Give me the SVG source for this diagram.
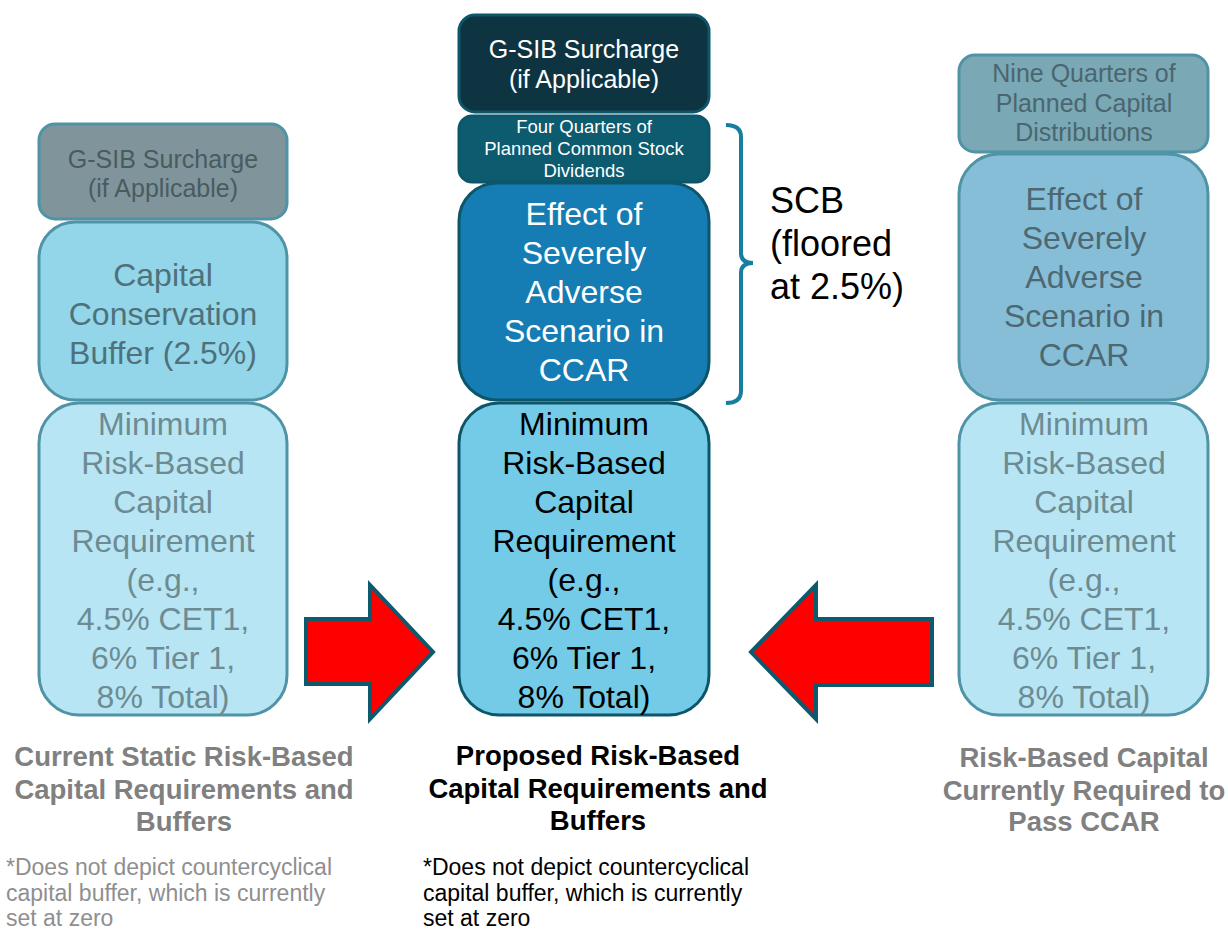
<svg xmlns="http://www.w3.org/2000/svg" width="1228" height="931" viewBox="0 0 1228 931">
<style>
text{font-family:"Liberation Sans",Arial,sans-serif;text-anchor:middle}
.b32{font-size:32px}
.b25{font-size:25px}
.b18{font-size:18.5px}
.bx{stroke-width:3}
.side{stroke:#4f93a6}
.mid{stroke:#0d566a}
.title{font-size:27.5px;font-weight:bold}
.note{font-size:23px;text-anchor:start}
.arrow{fill:#ff0000;stroke:#0d5a6e;stroke-width:4;stroke-linejoin:miter}
</style>
<rect width="1228" height="931" fill="#ffffff"/>

<g id="left-gsib">
<rect class="bx side" x="39" y="124" width="248" height="95" rx="16" fill="#7f959b"/>
<text class="b25" x="163" y="168" fill="#4a5b60">G-SIB Surcharge</text>
<text class="b25" x="163" y="197" fill="#4a5b60">(if Applicable)</text>
</g>
<g id="left-ccb">
<rect class="bx side" x="39" y="222" width="248" height="178" rx="36" fill="#93d6ea"/>
<text class="b32" x="163" y="286" fill="#4f717a">Capital</text>
<text class="b32" x="163" y="325" fill="#4f717a">Conservation</text>
<text class="b32" x="163" y="364" fill="#4f717a">Buffer (2.5%)</text>
</g>
<g id="left-min">
<rect class="bx side" x="39" y="403" width="248" height="312" rx="40" fill="#b8e5f3"/>
<g class="b32" fill="#6d8b92">
<text x="163" y="435">Minimum</text>
<text x="163" y="474">Risk-Based</text>
<text x="163" y="513">Capital</text>
<text x="163" y="552">Requirement</text>
<text x="163" y="591">(e.g.,</text>
<text x="163" y="630">4.5% CET1,</text>
<text x="163" y="669">6% Tier 1,</text>
<text x="163" y="708">8% Total)</text>
</g>
</g>

<g id="center-gsib">
<rect class="bx mid" x="459" y="15" width="250" height="97" rx="16" fill="#0e3441"/>
<text class="b25" x="584" y="58" fill="#ffffff">G-SIB Surcharge</text>
<text class="b25" x="584" y="88" fill="#ffffff">(if Applicable)</text>
</g>
<g id="center-dividends">
<rect class="bx mid" x="459" y="116" width="250" height="66" rx="13" fill="#0d5b6f"/>
<text class="b18" x="584" y="133" fill="#ffffff">Four Quarters of</text>
<text class="b18" x="584" y="155" fill="#ffffff">Planned Common Stock</text>
<text class="b18" x="584" y="177" fill="#ffffff">Dividends</text>
</g>
<g id="center-effect">
<rect class="bx mid" x="459" y="183" width="250" height="217" rx="38" fill="#157db3"/>
<g class="b32" fill="#ffffff">
<text x="584" y="225">Effect of</text>
<text x="584" y="264">Severely</text>
<text x="584" y="303">Adverse</text>
<text x="584" y="342">Scenario in</text>
<text x="584" y="381">CCAR</text>
</g>
</g>
<g id="center-min">
<rect class="bx mid" x="459" y="403" width="250" height="312" rx="40" fill="#73cbe7"/>
<g class="b32" fill="#000000">
<text x="584" y="435">Minimum</text>
<text x="584" y="474">Risk-Based</text>
<text x="584" y="513">Capital</text>
<text x="584" y="552">Requirement</text>
<text x="584" y="591">(e.g.,</text>
<text x="584" y="630">4.5% CET1,</text>
<text x="584" y="669">6% Tier 1,</text>
<text x="584" y="708">8% Total)</text>
</g>
</g>

<g id="right-distributions">
<rect class="bx side" x="959" y="55" width="249" height="97" rx="16" fill="#7aa8b4"/>
<text class="b25" x="1084" y="82" fill="#4a6670">Nine Quarters of</text>
<text class="b25" x="1084" y="112" fill="#4a6670">Planned Capital</text>
<text class="b25" x="1084" y="141" fill="#4a6670">Distributions</text>
</g>
<g id="right-effect">
<rect class="bx side" x="959" y="154" width="249" height="246" rx="40" fill="#86bed8"/>
<g class="b32" fill="#4e6872">
<text x="1084" y="210">Effect of</text>
<text x="1084" y="249">Severely</text>
<text x="1084" y="288">Adverse</text>
<text x="1084" y="327">Scenario in</text>
<text x="1084" y="366">CCAR</text>
</g>
</g>
<g id="right-min">
<rect class="bx side" x="959" y="403" width="249" height="312" rx="40" fill="#b8e5f3"/>
<g class="b32" fill="#6d8b92">
<text x="1084" y="435">Minimum</text>
<text x="1084" y="474">Risk-Based</text>
<text x="1084" y="513">Capital</text>
<text x="1084" y="552">Requirement</text>
<text x="1084" y="591">(e.g.,</text>
<text x="1084" y="630">4.5% CET1,</text>
<text x="1084" y="669">6% Tier 1,</text>
<text x="1084" y="708">8% Total)</text>
</g>
</g>

<g id="scb">
<path d="M726,125 Q741,125 741,137 V253 Q741,263 753,263 Q741,263 741,273 V391 Q741,403 726,403" fill="none" stroke="#167fa0" stroke-width="4"/>
<text x="770" y="213" font-size="36" style="text-anchor:start" fill="#000000">SCB</text>
<text x="770" y="256" font-size="36" style="text-anchor:start" fill="#000000">(floored</text>
<text x="770" y="299" font-size="36" style="text-anchor:start" fill="#000000">at 2.5%)</text>
</g>

<g id="connectors">
<polygon class="arrow" points="306,619 370,619 370,585 433,652 370,719 370,684 306,684"/>
<polygon class="arrow" points="932,619 816,619 816,585 751,652 816,719 816,685 932,685"/>
</g>

<g id="left-caption">
<text class="title" x="184" y="766" fill="#808080">Current Static Risk-Based</text>
<text class="title" x="184" y="799" fill="#808080">Capital Requirements and</text>
<text class="title" x="184" y="831" fill="#808080">Buffers</text>
<text class="note" x="6" y="875" fill="#8f8f8f">*Does not depict countercyclical</text>
<text class="note" x="6" y="901" fill="#8f8f8f">capital buffer, which is currently</text>
<text class="note" x="6" y="926" fill="#8f8f8f">set at zero</text>
</g>
<g id="center-caption">
<text class="title" x="598" y="765" fill="#000000">Proposed Risk-Based</text>
<text class="title" x="598" y="798" fill="#000000">Capital Requirements and</text>
<text class="title" x="598" y="830" fill="#000000">Buffers</text>
<text class="note" x="423" y="875" fill="#000000">*Does not depict countercyclical</text>
<text class="note" x="423" y="901" fill="#000000">capital buffer, which is currently</text>
<text class="note" x="423" y="926" fill="#000000">set at zero</text>
</g>
<g id="right-caption">
<text class="title" x="1084" y="767" fill="#808080">Risk-Based Capital</text>
<text class="title" x="1084" y="800" fill="#808080">Currently Required to</text>
<text class="title" x="1084" y="831" fill="#808080">Pass CCAR</text>
</g>
</svg>
